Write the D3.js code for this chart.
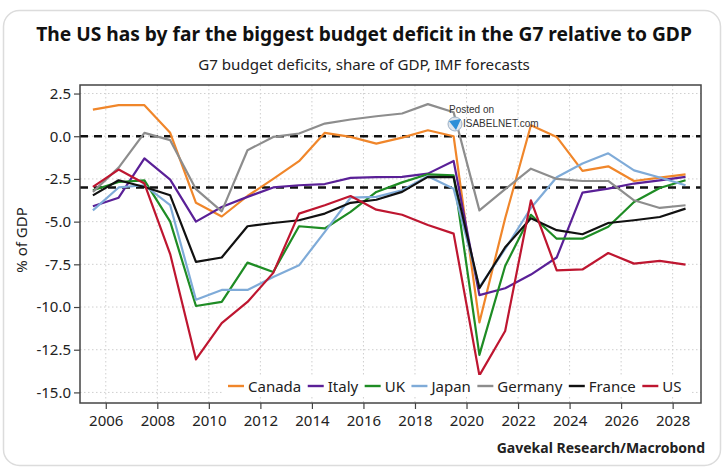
<!DOCTYPE html>
<html>
<head>
<meta charset="utf-8">
<script src="https://cdn.jsdelivr.net/npm/d3@7"></script>
<style>
  html, body { margin: 0; padding: 0; background: #fff; }
  svg { display: block; font-family: "Noto Sans", "Open Sans", sans-serif; }
</style>
</head>
<body>
<svg id="chart" width="728" height="474"></svg>
<script>
// ---- data ----
const years = d3.range(2005, 2029);
const canada  = [1.56, 1.82, 1.82, 0.2, -3.9, -4.7, -3.5, -2.5, -1.46, 0.2, -0.04, -0.43, -0.08, 0.35, 0.0, -10.9, -4.8, 0.64, -0.04, -2.03, -1.76, -2.62, -2.42, -2.23];
const italy   = [-4.1, -3.6, -1.3, -2.54, -5.0, -4.14, -3.55, -3.0, -2.87, -2.8, -2.44, -2.4, -2.38, -2.19, -1.45, -9.3, -8.9, -8.1, -7.1, -3.3, -3.07, -2.77, -2.58, -2.38];
const uk      = [-3.16, -2.68, -2.58, -5.0, -9.94, -9.7, -7.4, -7.95, -5.27, -5.4, -4.43, -3.26, -2.7, -2.23, -2.29, -12.8, -7.6, -4.6, -6.0, -6.0, -5.3, -3.85, -3.03, -2.58];
const japan   = [-4.34, -3.0, -2.87, -4.04, -9.57, -9.0, -9.0, -8.24, -7.56, -5.6, -3.6, -3.55, -3.16, -2.34, -3.07, -8.83, -6.6, -4.2, -2.4, -1.6, -1.0, -2.0, -2.42, -2.87];
const germany = [-3.26, -1.84, 0.2, -0.23, -3.1, -4.4, -0.82, -0.04, 0.16, 0.74, 0.98, 1.17, 1.33, 1.88, 1.4, -4.34, -3.1, -1.9, -2.5, -2.62, -2.62, -3.75, -4.2, -4.04];
const france  = [-3.46, -2.58, -2.97, -3.46, -7.36, -7.1, -5.27, -5.08, -4.92, -4.53, -3.9, -3.72, -3.26, -2.38, -2.4, -8.9, -6.5, -4.8, -5.5, -5.74, -5.08, -4.92, -4.73, -4.24];
const us      = [-2.97, -1.95, -2.77, -6.9, -13.07, -10.94, -9.7, -8.0, -4.53, -4.04, -3.5, -4.3, -4.6, -5.2, -5.7, -14.0, -11.4, -3.75, -7.85, -7.8, -6.84, -7.46, -7.3, -7.52];
const seriesNames = ["Canada", "Italy", "UK", "Japan", "Germany", "France", "US"];
const seriesColors = ["#f0862a", "#5a2097", "#1e8c24", "#7fabd8", "#8d8d8d", "#111111", "#be1630"];
const xTickYears = d3.range(2006, 2029, 2);
const yTickValues = [2.5, 0, -2.5, -5, -7.5, -10, -12.5, -15];
const yTickLabels = ["2.5", "0.0", "-2.5", "-5.0", "-7.5", "-10.0", "-12.5", "-15.0"];
const refLines = [0, -3];

const seriesValues = [canada, italy, uk, japan, germany, france, us];

// ---- layout ----
const svg = d3.select("#chart");
const L = 80, R = 701, T = 85, B = 403;

// card
svg.append("rect").attr("x", 3.5).attr("y", 10.5).attr("width", 717).attr("height", 455)
  .attr("rx", 16).attr("fill", "#fff").attr("stroke", "#dcdcdc").attr("stroke-width", 1.5);

const x = d3.scaleLinear().domain([2005, 2029.1]).range([L, R]);
const y = d3.scaleLinear().domain([-15.62, 3.0]).range([B, T]);

// titles (font size fitted to the reference width)
function fitText(sel, targetWidth, baseSize) {
  sel.attr("font-size", baseSize);
  const w = sel.node().getComputedTextLength();
  sel.attr("font-size", (baseSize * targetWidth / w).toFixed(2));
}
const title = svg.append("text").attr("x", 364).attr("y", 41).attr("text-anchor", "middle")
  .attr("font-weight", "bold").attr("fill", "#111")
  .text("The US has by far the biggest budget deficit in the G7 relative to GDP");
fitText(title, 656, 20);
const subtitle = svg.append("text").attr("x", 364).attr("y", 70).attr("text-anchor", "middle")
  .attr("fill", "#222")
  .text("G7 budget deficits, share of GDP, IMF forecasts");
fitText(subtitle, 332, 15);

// grid
const grid = svg.append("g");
grid.selectAll("line.gx").data(xTickYears).join("line")
  .attr("x1", d => x(d)).attr("x2", d => x(d)).attr("y1", T).attr("y2", B)
  .attr("stroke", "#cfcfcf").attr("stroke-width", 1).attr("stroke-dasharray", "1.5,2.5");
grid.selectAll("line.gy").data(yTickValues).join("line")
  .attr("x1", L).attr("x2", R).attr("y1", d => y(d)).attr("y2", d => y(d))
  .attr("stroke", "#cfcfcf").attr("stroke-width", 1).attr("stroke-dasharray", "1.5,2.5");

// reference dashed lines
svg.selectAll("line.ref").data(refLines).join("line")
  .attr("x1", L).attr("x2", R).attr("y1", d => y(d)).attr("y2", d => y(d))
  .attr("stroke", "#111").attr("stroke-width", 2.4).attr("stroke-dasharray", "8,6");

// series lines
const line = d3.line().x((d, i) => x(years[i] + 0.5)).y(d => y(d));
svg.append("g").selectAll("path").data(seriesValues).join("path")
  .attr("d", d => line(d)).attr("fill", "none")
  .attr("stroke", (d, i) => seriesColors[i]).attr("stroke-width", 2.2)
  .attr("stroke-linejoin", "round");

// watermark
const wm = svg.append("g");
wm.append("text").attr("x", 449).attr("y", 113).attr("font-size", 10).attr("fill", "#333")
  .attr("font-family", "Liberation Sans, Arial, sans-serif").text("Posted on");
wm.append("circle").attr("cx", 455).attr("cy", 124).attr("r", 7).attr("fill", "#dfe6ee").attr("stroke", "#9fb2c6");
wm.append("path").attr("d", "M449,121 L461,119 L456,130 Z").attr("fill", "#2d8fd8");
wm.append("text").attr("x", 463).attr("y", 127).attr("font-size", 10).attr("fill", "#333")
  .attr("font-family", "Liberation Sans, Arial, sans-serif").text("ISABELNET.com");

// legend
const lg = svg.append("g");
lg.append("rect").attr("x", 224).attr("y", 375).attr("width", 466).attr("height", 22).attr("fill", "#fff");
let lx = 228;
seriesNames.forEach((name, i) => {
  lg.append("line").attr("x1", lx).attr("x2", lx + 16).attr("y1", 386).attr("y2", 386)
    .attr("stroke", seriesColors[i]).attr("stroke-width", 2.4);
  const t = lg.append("text").attr("x", lx + 20).attr("y", 392).attr("font-size", 15).attr("fill", "#222").text(name);
  lx += 20 + t.node().getComputedTextLength() + 6.5;
});

// plot frame
svg.append("rect").attr("x", L).attr("y", T).attr("width", R - L).attr("height", B - T)
  .attr("fill", "none").attr("stroke", "#444").attr("stroke-width", 1.5);

// axes
const yAxis = svg.append("g").attr("transform", `translate(${L},0)`)
  .call(d3.axisLeft(y).tickValues(yTickValues).tickFormat((d, i) => yTickLabels[i]).tickSize(6).tickPadding(3));
const xAxis = svg.append("g").attr("transform", `translate(0,${B})`)
  .call(d3.axisBottom(x).tickValues(xTickYears).tickFormat(d3.format("d")).tickSize(6).tickPadding(6));
[yAxis, xAxis].forEach(a => {
  a.select(".domain").remove();
  a.selectAll(".tick line").attr("stroke", "#444").attr("stroke-width", 1.2);
  a.selectAll("text").attr("font-size", 15).attr("fill", "#222").attr("font-family", "Noto Sans, sans-serif");
});

// y label
svg.append("text").attr("transform", "translate(27,240) rotate(-90)").attr("text-anchor", "middle")
  .attr("font-size", 15).attr("fill", "#222").text("% of GDP");

// source
svg.append("text").attr("x", 705).attr("y", 453).attr("text-anchor", "end")
  .attr("font-size", 14).attr("font-weight", "bold").attr("fill", "#222")
  .text("Gavekal Research/Macrobond");
</script>
</body>
</html>
